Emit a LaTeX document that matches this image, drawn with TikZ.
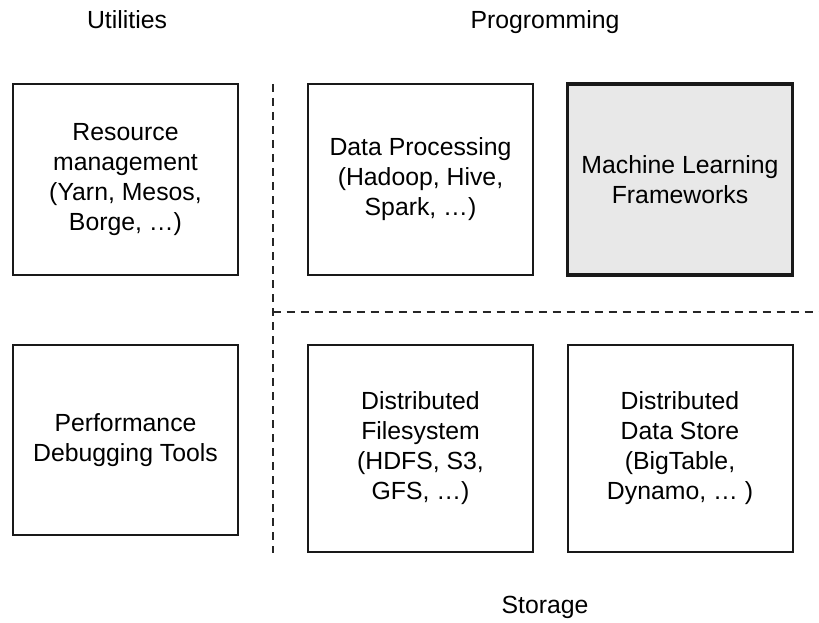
\documentclass[tikz,border=0pt]{standalone}
\usepackage{fontspec}
\setmainfont{Liberation Sans}
\begin{document}
\begin{tikzpicture}[x=1pt,y=-1pt,
  box/.style={draw=black!90, line width=2pt, rectangle, inner sep=0pt,
    minimum width=225pt, align=center, font=\fontsize{24.8}{30}\selectfont},
  mlbox/.style={box, line width=3.5pt, fill=black!9},
  sep/.style={draw=black!85, line width=2pt, dash pattern=on 8pt off 6pt},
  title/.style={font=\fontsize{24.8}{30}\selectfont, inner sep=0pt, anchor=base}]
\useasboundingbox (0,0) rectangle (819,623);
\node[box, minimum height=191pt] (res) at (125.5,179.5) {Resource\\management\\(Yarn, Mesos,\\Borge, …)};
\node[box, minimum height=191pt] (dp) at (420.5,179.5) {Data Processing\\(Hadoop, Hive,\\Spark, …)};
\node[mlbox, minimum height=191pt] (ml) at (680,179.5) {Machine Learning\\Frameworks};
\node[box, minimum height=190pt] (perf) at (125.5,440) {Performance\\Debugging Tools};
\node[box, minimum height=207pt] (dfs) at (420.5,448.5) {Distributed\\Filesystem\\(HDFS, S3,\\GFS, …)};
\node[box, minimum height=207pt] (dds) at (680,448.5) {Distributed\\Data Store\\(BigTable,\\Dynamo, … )};
\node[title] (util) at (127,29) {Utilities};
\node[title] (prog) at (545,29) {Progromming};
\node[title] (stor) at (545,613) {Storage};
\coordinate (vtop) at (272.5,84);
\coordinate (vbot) at (272.5,553);
\coordinate (hl) at (272.5,312);
\coordinate (hr) at (819,312);
\draw[sep] (vtop) -- (vbot);
\draw[sep] (hl) -- (hr);
\end{tikzpicture}
\end{document}
